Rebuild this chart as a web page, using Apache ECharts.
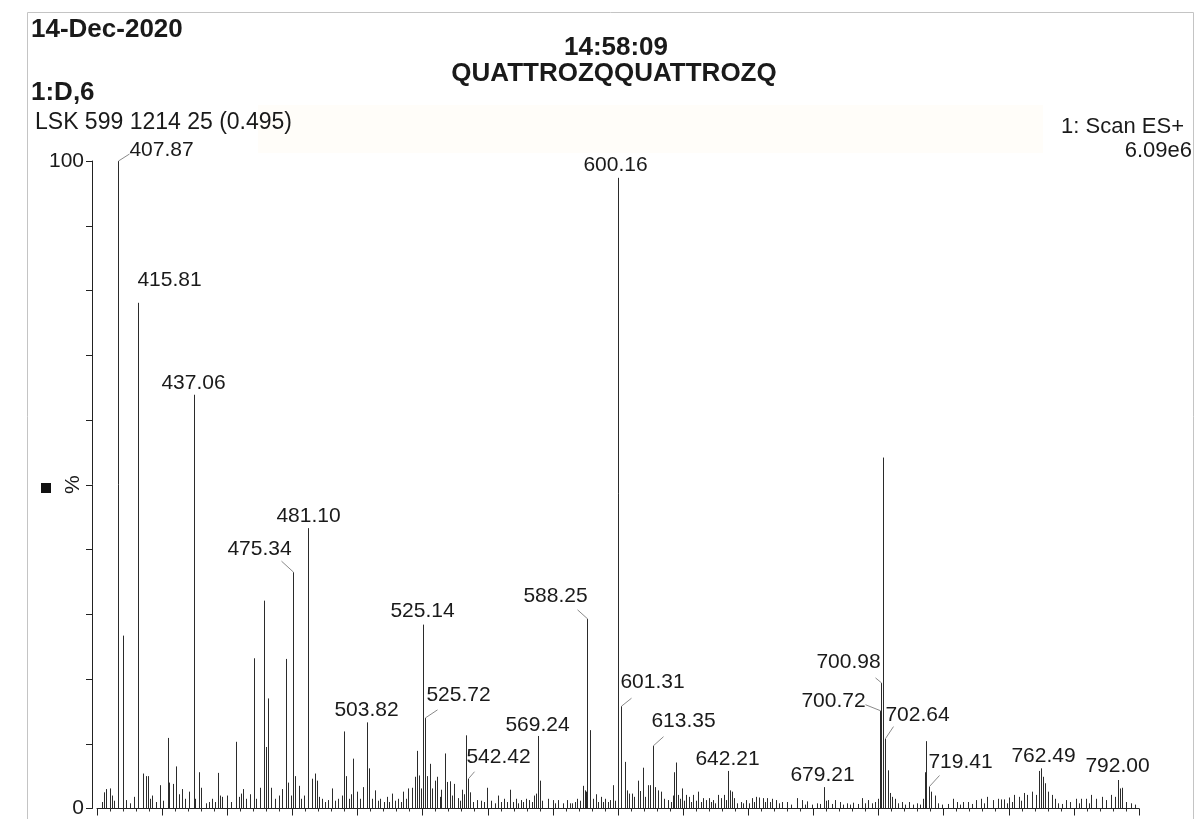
<!DOCTYPE html>
<html>
<head>
<meta charset="utf-8">
<script src="https://cdn.jsdelivr.net/npm/echarts@6/dist/echarts.min.js"></script>
<style>
html,body{margin:0;padding:0;background:#fff;}
#chart{width:1195px;height:819px;}
</style>
</head>
<body>
<div id="chart"></div>
<script>
// ---- data: m/z of every peak stick and its relative intensity (%) ----
const peakMz = [
401.8,402.6,403.5,404.8,405.6,406.5,407.87,409.9,411.1,412.5,414.2,415.81,417.5,418.7,419.4,420.3,421.3,422.8,424.2,425.5,
427.3,427.8,429.3,430.4,431.5,432.6,433.8,435.3,437.06,437.8,439.0,440.0,441.8,443.0,444.3,445.4,446.5,447.2,448.0,449.9,
451.5,453.5,454.4,455.2,456.1,457.3,458.6,460.2,461.2,462.6,464.1,465.0,465.5,466.8,468.2,469.7,471.0,472.6,473.3,474.4,
475.34,476.1,477.6,478.5,479.3,481.10,482.4,483.5,484.3,485.2,486.3,487.5,488.8,490.3,491.5,492.6,493.9,494.9,495.5,496.8,
497.6,498.4,499.7,501.0,502.3,503.82,504.4,505.5,506.8,507.8,508.7,510.0,511.2,512.2,513.1,514.5,515.7,516.6,517.6,518.6,
519.5,520.8,522.0,522.9,523.7,524.3,525.14,525.72,526.5,527.9,528.7,529.7,530.7,531.5,532.2,533.7,534.5,535.6,536.3,537.1,
538.6,539.5,540.0,540.9,541.7,542.42,543.2,544.5,545.8,547.5,548.6,549.8,551.3,552.6,554.1,555.0,556.2,557.5,558.7,559.8,
560.9,561.8,562.8,563.7,564.7,566.0,567.0,567.9,568.4,569.24,569.9,571.0,573.0,574.9,576.0,576.8,578.7,580.6,581.5,582.5,
583.5,584.4,585.5,586.6,587.2,587.6,588.25,589.4,590.5,591.4,592.3,593.3,594.2,595.2,596.0,596.8,598.0,599.0,600.16,601.31,
602.5,603.4,604.2,605.2,606.3,607.6,608.4,609.5,610.5,611.4,612.3,613.35,614.1,615.3,616.5,617.8,619.1,620.2,621.0,621.6,
622.1,622.9,623.7,624.5,625.3,626.1,627.3,628.0,628.9,630.0,630.9,631.7,632.5,633.7,635.0,635.8,636.5,637.4,638.2,639.5,
640.7,641.5,642.21,642.9,643.6,644.5,645.8,647.1,648.0,649.0,650.2,651.3,652.2,653.1,654.3,655.6,656.5,657.3,658.3,659.2,
660.7,661.8,663.0,664.9,666.5,668.7,670.7,671.6,672.6,674.5,676.2,677.5,679.21,679.8,680.8,682.0,683.4,685.3,686.5,687.8,
689.0,690.4,692.0,693.6,695.0,696.1,697.5,698.8,699.8,700.72,700.98,701.55,702.64,703.8,704.4,705.0,706.3,707.5,708.9,710.3,
711.8,713.2,714.6,716.0,717.1,718.0,718.4,719.41,720.3,721.6,722.8,724.5,726.5,728.6,730.1,731.2,732.4,734.3,735.8,737.4,
739.3,740.5,741.8,743.8,745.7,746.9,748.2,749.2,750.1,751.2,752.0,753.9,754.8,755.8,757.1,758.8,760.3,761.6,762.49,763.2,
764.1,765.1,766.7,767.7,769.0,770.5,771.8,773.6,775.9,776.8,777.9,779.8,780.8,781.7,783.6,785.9,787.4,789.3,790.7,792.00,
792.7,793.5,795.0,796.9,798.5
];
const peakIntensity = [
1.0,2.5,3.0,3.1,2.0,1.2,100,26.7,1.3,0.8,1.8,78.1,5.4,5.0,5.0,1.5,2.0,1.0,3.6,1.2,
10.9,4.0,3.8,6.5,2.2,3.0,1.5,2.6,63.9,1.5,5.6,3.2,0.8,1.0,1.5,1.0,5.5,2.0,1.8,2.0,
1.0,10.3,1.8,2.3,3.0,1.5,2.2,23.2,1.5,3.2,32.1,9.5,17.0,3.2,1.5,2.0,3.0,23.1,4.0,2.0,
36.5,5.0,3.5,1.5,2.0,43.3,4.6,5.4,4.3,1.8,1.5,1.0,1.3,3.1,1.2,1.5,2.0,11.9,5.0,1.5,
2.2,7.7,2.6,1.5,3.3,13.3,6.2,1.5,2.8,1.2,1.5,1.0,1.8,1.0,2.3,1.2,1.5,1.0,2.6,1.5,
3.1,3.2,4.9,8.9,5.1,3.1,28.4,14.0,5.0,6.9,3.1,4.3,4.9,1.8,2.9,8.5,4.1,4.2,2.0,3.8,
1.6,1.2,2.9,2.2,11.3,4.6,2.5,1.0,1.3,1.2,1.0,3.2,1.2,0.8,2.0,1.0,1.5,1.0,2.9,1.0,
1.5,0.8,1.3,1.0,1.5,1.3,1.0,2.0,2.3,11.2,4.3,1.2,1.5,1.3,0.8,1.3,0.8,1.3,0.8,0.8,
1.0,1.5,1.2,3.5,2.8,2.6,29.3,12.1,1.5,2.2,1.0,1.8,1.0,1.5,1.0,1.3,3.6,1.2,97.4,15.8,
7.2,2.8,2.3,2.3,1.8,4.3,2.7,6.3,1.8,3.6,3.6,9.7,3.3,2.8,2.6,1.5,1.3,1.0,2.0,5.6,
7.1,2.1,1.5,3.1,1.2,2.1,1.8,1.0,2.1,1.2,2.6,1.0,1.6,1.3,1.6,1.0,1.3,0.8,2.1,1.6,
2.1,1.3,5.8,2.8,2.6,1.6,0.8,1.0,0.8,1.3,0.8,1.6,1.0,1.8,1.7,1.6,1.0,1.6,1.0,1.5,
1.3,0.8,1.0,1.0,0.6,1.6,1.3,0.6,1.1,0.6,0.8,0.7,3.3,1.2,1.3,0.7,1.3,1.0,0.6,0.8,
0.6,0.9,0.7,1.6,0.8,1.3,0.8,1.0,1.5,15.1,19.4,54.2,10.8,5.9,2.4,1.8,1.5,0.8,1.0,0.6,
1.0,0.6,0.8,0.6,1.5,5.6,10.4,3.4,2.6,2.0,0.8,0.6,0.7,1.5,1.0,0.6,1.0,1.0,0.7,1.3,
1.5,0.8,1.8,1.3,1.5,1.4,1.4,0.8,1.7,1.0,2.1,1.8,1.2,2.4,2.1,2.6,2.1,5.8,6.2,4.9,
3.9,2.6,2.1,1.5,0.8,0.7,1.3,1.0,1.5,0.8,1.5,1.5,0.8,2.1,1.5,1.8,1.3,2.1,1.8,4.4,
3.1,3.2,1.0,0.8,0.6
];
// ---- annotated peaks ----
const labelTexts = ['407.87','415.81','437.06','475.34','481.10','503.82','525.14','525.72','542.42','569.24','588.25',
  '600.16','601.31','613.35','642.21','679.21','700.98','700.72','702.64','719.41','762.49','792.00'];
// ---- axis tick values ----
const xTickMin = 400, xTickMax = 800, xTickStep = 25;
const yTickLabels = [0, 100];

// label placement (pixel offsets of text centre from the peak top, and leader vector)
const labelLayout = {
  '407.87':[43,-11,11,-7], '415.81':[31,-23,0,0], '437.06':[-1,-12,0,0], '475.34':[-34,-23,-12,-11],
  '481.10':[0,-12,0,0], '503.82':[-1,-12,0,0], '525.14':[-1,-13,0,0], '525.72':[33,-23,12,-8],
  '542.42':[30,-22,6,-7], '569.24':[-1,-11,0,0], '588.25':[-32,-23,-10,-9], '600.16':[-3,-13,0,0],
  '601.31':[31,-24,10,-8], '613.35':[30,-24,10,-9], '642.21':[-1,-12,0,0], '679.21':[-2,-12,0,0],
  '700.98':[-33,-21,-6,-5], '700.72':[-47,-10,-15,-6], '702.64':[32,-23,8,-12], '719.41':[31,-24,10,-11],
  '762.49':[2,-12,0,0], '792.00':[-1,-14,0,0]
};

const FONT = '"Liberation Sans", Arial, sans-serif';
const peakData = peakMz.map((m, i) => [m, peakIntensity[i]]);
const labelData = labelTexts.map((t, k) => {
  const m = parseFloat(t);
  const i = peakMz.findIndex(v => Math.abs(v - m) < 1e-6);
  return [m, peakIntensity[i], k];
});

const chart = echarts.init(document.getElementById('chart'), null, {renderer: 'canvas'});
chart.setOption({
  backgroundColor: '#ffffff',
  animation: false,
  grid: {left: 97, right: 56, top: 161, bottom: 9},
  xAxis: {
    type: 'value', min: xTickMin, max: xTickMax, interval: xTickStep,
    axisLine: {show: true, onZero: false, lineStyle: {color: '#222', width: 1}},
    axisTick: {show: true, length: 7, lineStyle: {color: '#222'}},
    minorTick: {show: true, splitNumber: 5, length: 3, lineStyle: {color: '#333'}},
    axisLabel: {show: false},
    splitLine: {show: false}
  },
  yAxis: {
    type: 'value', min: 0, max: 100, interval: 10, offset: 5,
    name: '%', nameLocation: 'middle', nameRotate: 90, nameGap: 8, nameMoveOverlap: false,
    nameTextStyle: {fontFamily: FONT, fontSize: 21, color: '#1a1a1a'},
    axisLine: {show: true, lineStyle: {color: '#222', width: 1}},
    axisTick: {show: true, length: 6, lineStyle: {color: '#222'}},
    axisLabel: {
      fontFamily: FONT, fontSize: 21, color: '#1a1a1a', margin: 8,
      formatter: v => (yTickLabels.indexOf(v) >= 0 ? String(v) : '')
    },
    splitLine: {show: false}
  },
  graphic: [
    {type: 'rect', silent: true, z: -10, shape: {x: 258, y: 105, width: 785, height: 48}, style: {fill: '#fffdf9'}},
    {type: 'rect', silent: true, shape: {x: 27.5, y: 12.5, width: 1166, height: 830}, style: {fill: 'none', stroke: '#c4c4c4', lineWidth: 1}},
    {type: 'text', left: 31, top: 17, style: {text: '14-Dec-2020', font: 'bold 26px ' + FONT, fill: '#1a1a1a'}},
    {type: 'text', x: 616, y: 48, style: {text: '14:58:09', font: 'bold 26px ' + FONT, fill: '#1a1a1a', textAlign: 'center', textVerticalAlign: 'middle'}},
    {type: 'text', x: 614, y: 74, style: {text: 'QUATTROZQQUATTROZQ', font: 'bold 26px ' + FONT, fill: '#1a1a1a', textAlign: 'center', textVerticalAlign: 'middle'}},
    {type: 'text', left: 31, top: 80, style: {text: '1:D,6', font: 'bold 26px ' + FONT, fill: '#1a1a1a'}},
    {type: 'text', left: 35, top: 111, style: {text: 'LSK 599 1214 25 (0.495)', font: '23px ' + FONT, fill: '#1a1a1a'}},
    {type: 'text', x: 1184, y: 127, style: {text: '1: Scan ES+', font: '22px ' + FONT, fill: '#1a1a1a', textAlign: 'right', textVerticalAlign: 'middle'}},
    {type: 'text', x: 1192, y: 151, style: {text: '6.09e6', font: '22px ' + FONT, fill: '#1a1a1a', textAlign: 'right', textVerticalAlign: 'middle'}},
    {type: 'rect', silent: true, shape: {x: 41, y: 483, width: 10, height: 10}, style: {fill: '#111'}}
  ],
  series: [
    {
      type: 'custom', name: 'peaks', data: peakData, clip: false,
      renderItem: function (params, api) {
        const m = api.value(0), h = api.value(1);
        const p0 = api.coord([m, 0]);
        const p1 = api.coord([m, h]);
        const x = Math.round(p0[0]) + 0.5;
        return {type: 'line', shape: {x1: x, y1: p0[1], x2: x, y2: p1[1]}, style: {stroke: '#2b2b2b', lineWidth: 1}};
      }
    },
    {
      type: 'custom', name: 'labels', data: labelData, clip: false, z: 5,
      renderItem: function (params, api) {
        const m = api.value(0), h = api.value(1), k = api.value(2);
        const text = labelTexts[k];
        const lay = labelLayout[text];
        const p = api.coord([m, h]);
        const px = Math.round(p[0]) + 0.5, py = p[1];
        const children = [{
          type: 'text', x: px + lay[0], y: py + lay[1],
          style: {text: text, font: '21px ' + FONT, fill: '#1a1a1a', textAlign: 'center', textVerticalAlign: 'middle'}
        }];
        if (lay[2] !== 0 || lay[3] !== 0) {
          children.push({type: 'line', shape: {x1: px, y1: py, x2: px + lay[2], y2: py + lay[3]}, style: {stroke: '#8a8a8a', lineWidth: 1}});
        }
        return {type: 'group', children: children};
      }
    }
  ]
});
</script>
</body>
</html>
